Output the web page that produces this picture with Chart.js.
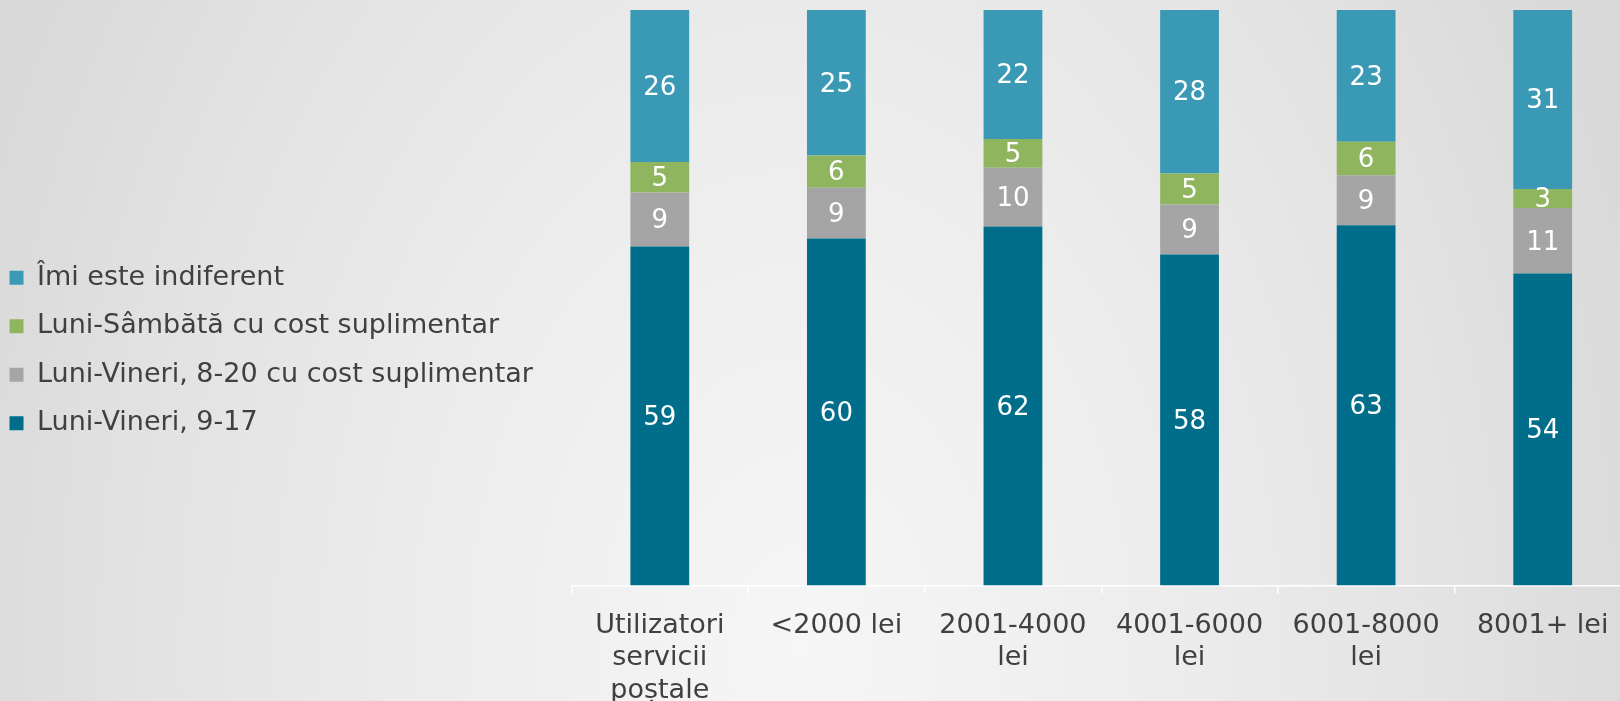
<!DOCTYPE html>
<html>
<head>
<meta charset="utf-8">
<script src="https://cdn.jsdelivr.net/npm/chart.js@4"></script>
<style>
    html, body {
        margin: 0;
        padding: 0;
        width: 1620px;
        height: 701px;
        overflow: hidden;
        background: radial-gradient(ellipse 900px 1300px at 800px 650px, #f6f6f6 0%, #ededed 40%, #e3e3e3 72%, #dcdcdc 90%, #d9d9d9 100%);
    }
    #wrap {
        position: absolute;
        left: 0;
        top: 0;
    }
</style>
</head>
<body>
<div id="wrap">
    <canvas id="myChart" width="1640" height="701"></canvas>
</div>
<script>
// categorii (axa X)
const categories = [
    ["Utilizatori", "servicii", "poștale"],
    "<2000 lei",
    ["2001-4000", "lei"],
    ["4001-6000", "lei"],
    ["6001-8000", "lei"],
    "8001+ lei"
];

// procente
const lv917 = [58.9, 60.3, 62.4, 57.5, 62.6, 54.2];
const lv820 = [9.4, 8.8, 10.2, 8.7, 8.7, 11.4];
const lsCost = [5.3, 5.6, 5.0, 5.4, 5.8, 3.3];
const indiferent = [26.4, 25.3, 22.4, 28.4, 22.9, 31.1];

const seriesNames = [
    "Luni-Vineri, 9-17",
    "Luni-Vineri, 8-20 cu cost suplimentar",
    "Luni-Sâmbătă cu cost suplimentar",
    "Îmi este indiferent"
];
const seriesColors = ["#006e8a", "#a5a5a5", "#8fb55e", "#3a9ab5"];

const FONT = "'DejaVu Sans', Verdana, sans-serif";
const PAD_LEFT = -12;
const PLOT_LEFT = 571.5;
const PLOT_BOTTOM = 585.5;

// scrie valorile in mijlocul fiecarui segment
const segmentLabels = {
    id: "segmentLabels",
    afterDatasetsDraw(chart) {
        const ctx = chart.ctx;
        ctx.save();
        ctx.font = "26px " + FONT;
        ctx.fillStyle = "#ffffff";
        ctx.textAlign = "center";
        ctx.textBaseline = "middle";
        chart.data.datasets.forEach((ds, i) => {
            chart.getDatasetMeta(i).data.forEach((bar, j) => {
                const p = bar.getProps(["x", "y", "base"], true);
                ctx.fillText(Math.round(ds.data[j]), p.x, (p.y + p.base) / 2 + 2);
            });
        });
        ctx.restore();
    }
};

// legenda ocupa tot spatiul pana la axa X
const legendWidth = {
    id: "legendWidth",
    beforeLayout(chart) {
        const lg = chart.legend;
        if (lg && !lg._fixedWidth) {
            const origFit = lg.fit;
            lg.fit = function () {
                origFit.call(this);
                this.width = PLOT_LEFT - PAD_LEFT;
            };
            lg._fixedWidth = true;
        }
    }
};

const allSeries = [lv917, lv820, lsCost, indiferent];

new Chart("myChart", {
    type: "bar",
    data: {
        labels: categories,
        datasets: allSeries.map((vals, i) => ({
            label: seriesNames[i],
            data: vals,
            backgroundColor: seriesColors[i],
            borderWidth: 0,
            barPercentage: 0.333,
            categoryPercentage: 1
        }))
    },
    options: {
        responsive: false,
        animation: false,
        layout: {
            padding: { top: 0, right: 9, bottom: 0, left: PAD_LEFT }
        },
        plugins: {
            tooltip: { enabled: false },
            // titlu gol, doar ca spatiu de 10px deasupra barelor
            title: {
                display: true,
                text: "",
                padding: 0,
                font: { size: 10, lineHeight: 1 }
            },
            legend: {
                position: "left",
                reverse: true,
                labels: {
                    boxWidth: 14,
                    boxHeight: 14,
                    padding: 21.5,
                    color: "#404040",
                    font: { family: FONT, size: 27 }
                }
            }
        },
        scales: {
            x: {
                stacked: true,
                grid: {
                    display: true,
                    drawOnChartArea: false,
                    drawTicks: true,
                    tickLength: 8,
                    color: "#ffffff",
                    lineWidth: 1.5,
                    offset: true
                },
                border: { display: true, color: "#ffffff", width: 1.5 },
                ticks: {
                    padding: 16,
                    color: "#404040",
                    maxRotation: 0,
                    autoSkip: false,
                    font: { family: FONT, size: 27, lineHeight: 1.2 }
                },
                afterFit: (s) => { s.height = 701 - PLOT_BOTTOM; }
            },
            y: {
                display: false,
                stacked: true,
                min: 0,
                max: 100
            }
        }
    },
    plugins: [segmentLabels, legendWidth]
});
</script>
</body>
</html>
